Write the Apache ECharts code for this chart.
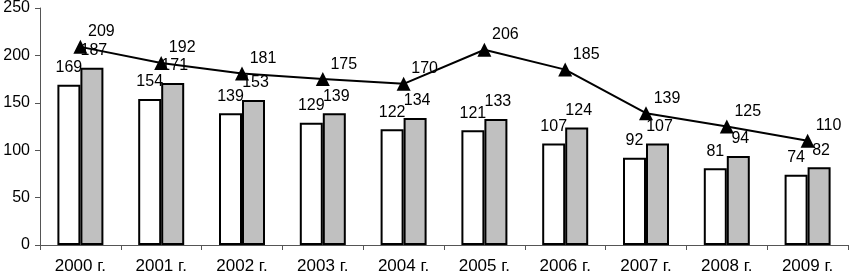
<!DOCTYPE html>
<html><head><meta charset="utf-8">
<script src="https://cdn.jsdelivr.net/npm/echarts@6/dist/echarts.min.js"></script>
<style>html,body{margin:0;padding:0;background:#fff}#c{width:849px;height:275px}</style>
</head><body><div id="c"></div>
<script>
const categories = ['2000 г.','2001 г.','2002 г.','2003 г.','2004 г.','2005 г.','2006 г.','2007 г.','2008 г.','2009 г.'];
const seriesWhite = [169,154,139,129,122,121,107,92,81,74];
const seriesGray = [187,171,153,139,134,133,124,107,94,82];
const seriesLine = [209,192,181,175,170,206,185,139,125,110];
const yTicks = [0,50,100,150,200,250];

const font = 'Liberation Sans, Arial, sans-serif';
const chart = echarts.init(document.getElementById('c'));
chart.setOption({
  animation:false,
  grid:{left:40,right:1,top:8,bottom:30},
  xAxis:{type:'category',data:categories,
    axisLine:{lineStyle:{color:'#555',width:1}},
    axisTick:{show:true,length:5,lineStyle:{color:'#555'}},
    axisLabel:{color:'#000',fontSize:17,fontFamily:font,margin:13}},
  yAxis:{type:'value',min:yTicks[0],max:yTicks[yTicks.length-1],interval:50,
    axisLine:{show:true,lineStyle:{color:'#555',width:1}},
    axisTick:{show:true,length:5,lineStyle:{color:'#555'}},
    splitLine:{show:false},
    axisLabel:{color:'#000',fontSize:16,fontFamily:font,margin:10}},
  series:[
    {type:'bar',data:seriesWhite,barWidth:23,barGap:'0%',
      itemStyle:{color:'#fff',borderColor:'#000',borderWidth:2},
      label:{show:true,position:'top',distance:9,color:'#000',fontSize:16,fontFamily:font}},
    {type:'bar',data:seriesGray,barWidth:23,barGap:'0%',
      itemStyle:{color:'#c0c0c0',borderColor:'#000',borderWidth:2},
      label:{show:true,position:'top',distance:9,offset:[2,0],color:'#000',fontSize:16,fontFamily:font}},
    {type:'line',data:seriesLine,symbol:'triangle',symbolSize:14,
      lineStyle:{color:'#000',width:2},itemStyle:{color:'#000'},
      label:{show:true,position:'inside',offset:[21,-15],color:'#000',fontSize:16,fontFamily:font},
      z:5}
  ]
});
</script></body></html>
